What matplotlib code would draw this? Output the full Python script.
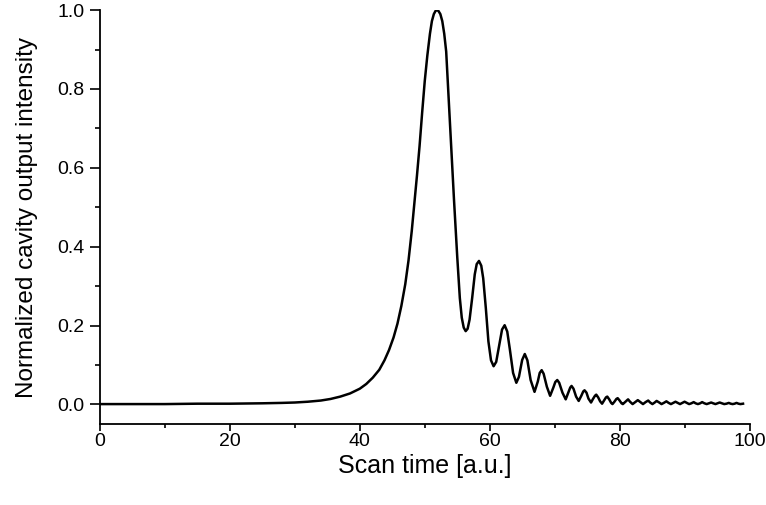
import matplotlib.pyplot as plt
from matplotlib.ticker import MultipleLocator

plt.rcParams['font.family'] = ['Liberation Sans', 'DejaVu Sans']

# scan time [a.u.] and normalized intensity
scan_time = [
    0, 5, 10, 15, 20, 25, 28, 30, 32, 34, 35.5, 37, 38.5, 40, 41, 42, 43,
    43.8, 44.5, 45.2, 45.8, 46.4, 47.0, 47.5, 48.0, 48.4, 48.8, 49.2, 49.6,
    50.0, 50.4, 50.8, 51.1, 51.4, 51.7, 51.9, 52.1, 52.4, 52.7, 53.0, 53.3,
    53.7, 54.1, 54.5, 55.0, 55.4, 55.7, 56.0, 56.3, 56.6, 56.9, 57.3, 57.7,
    58.0, 58.35, 58.7, 59.0, 59.4, 59.8, 60.2, 60.6, 61.0, 61.4, 61.9, 62.3,
    62.7, 63.1, 63.6, 64.1, 64.5, 65.0, 65.4, 65.8, 66.3, 66.9, 67.4, 67.7,
    68.0, 68.3, 68.8, 69.3, 69.8, 70.1, 70.4, 70.7, 71.2, 71.7, 72.1, 72.4,
    72.6, 72.9, 73.3, 73.7, 74.1, 74.4, 74.6, 74.9, 75.2, 75.6, 75.9, 76.2,
    76.4, 76.7, 77.0, 77.3, 77.6, 77.9, 78.1, 78.4, 78.7, 78.9, 79.2, 79.5,
    79.7, 80.0, 80.3, 80.5, 80.9, 81.3, 81.6, 82.0, 82.4, 82.8, 83.2, 83.6,
    84.0, 84.4, 84.7, 85.05, 85.4, 85.7, 86.1, 86.45, 86.8, 87.2, 87.55,
    87.9, 88.25, 88.6, 88.95, 89.3, 89.65, 90.0, 90.35, 90.7, 91.05, 91.4,
    91.7, 92.05, 92.4, 92.7, 93.05, 93.4, 93.75, 94.1, 94.4, 94.75, 95.1,
    95.4, 95.75, 96.1, 96.45, 96.8, 97.1, 97.4, 97.7, 98.0, 98.3, 98.6, 99.0,
]
intensity = [
    0.001, 0.001, 0.001, 0.002, 0.002, 0.003, 0.004, 0.005, 0.007, 0.010,
    0.014, 0.020, 0.028, 0.040, 0.052, 0.068, 0.088, 0.112, 0.138, 0.170,
    0.205, 0.250, 0.305, 0.365, 0.440, 0.510, 0.580, 0.655, 0.740, 0.820,
    0.885, 0.940, 0.972, 0.990, 0.999, 1.000, 0.998, 0.990, 0.972, 0.940,
    0.895, 0.770, 0.645, 0.520, 0.375, 0.270, 0.220, 0.195, 0.186, 0.192,
    0.215, 0.270, 0.330, 0.356, 0.364, 0.352, 0.320, 0.245, 0.160, 0.112,
    0.097, 0.108, 0.145, 0.190, 0.201, 0.185, 0.140, 0.080, 0.055, 0.070,
    0.113, 0.128, 0.112, 0.062, 0.032, 0.058, 0.080, 0.087, 0.078, 0.045,
    0.022, 0.043, 0.057, 0.062, 0.055, 0.030, 0.013, 0.030, 0.043, 0.047,
    0.040, 0.020, 0.009, 0.022, 0.033, 0.036, 0.030, 0.015, 0.005, 0.014,
    0.022, 0.025, 0.018, 0.008, 0.002, 0.010, 0.018, 0.020, 0.013, 0.004,
    0.001, 0.007, 0.014, 0.016, 0.010, 0.003, 0.001, 0.007, 0.013, 0.007,
    0.001, 0.006, 0.011, 0.006, 0.001, 0.006, 0.010, 0.005, 0.001, 0.005,
    0.009, 0.005, 0.001, 0.004, 0.008, 0.004, 0.001, 0.004, 0.007, 0.004,
    0.001, 0.004, 0.007, 0.004, 0.001, 0.003, 0.006, 0.003, 0.001, 0.003,
    0.006, 0.003, 0.001, 0.003, 0.005, 0.003, 0.001, 0.003, 0.005, 0.003,
    0.001, 0.002, 0.004, 0.002, 0.001, 0.002, 0.004, 0.002, 0.001, 0.002,
]

fig = plt.figure(figsize=(7.66, 5.05), dpi=100)
ax = fig.add_axes([0.1305, 0.160, 0.848, 0.820])

ax.plot(scan_time, intensity, color='black', lw=1.8)

ax.set_xlim(0, 100)
ax.set_ylim(-0.05, 1.0)
ax.xaxis.set_major_locator(MultipleLocator(20))
ax.xaxis.set_minor_locator(MultipleLocator(10))
ax.yaxis.set_major_locator(MultipleLocator(0.2))
ax.yaxis.set_minor_locator(MultipleLocator(0.1))
ax.yaxis.set_major_formatter(lambda v, p: f'{v:.1f}')

for side in ['top', 'right']:
    ax.spines[side].set_visible(False)
for side in ['left', 'bottom']:
    ax.spines[side].set_linewidth(1.3)
ax.tick_params(which='major', width=1.2, labelsize=14, direction='out')
ax.tick_params(which='minor', width=1.2, direction='out')
ax.tick_params(axis='y', which='major', length=7, pad=4)
ax.tick_params(axis='y', which='minor', length=3.5)
ax.tick_params(axis='x', which='major', length=5, pad=1.5)
ax.tick_params(axis='x', which='minor', length=3)

ax.set_xlabel('Scan time [a.u.]', fontsize=18, labelpad=3)
ax.set_ylabel('Normalized cavity output intensity', fontsize=17.5, labelpad=14)

fig.savefig('out.png', dpi=100)
